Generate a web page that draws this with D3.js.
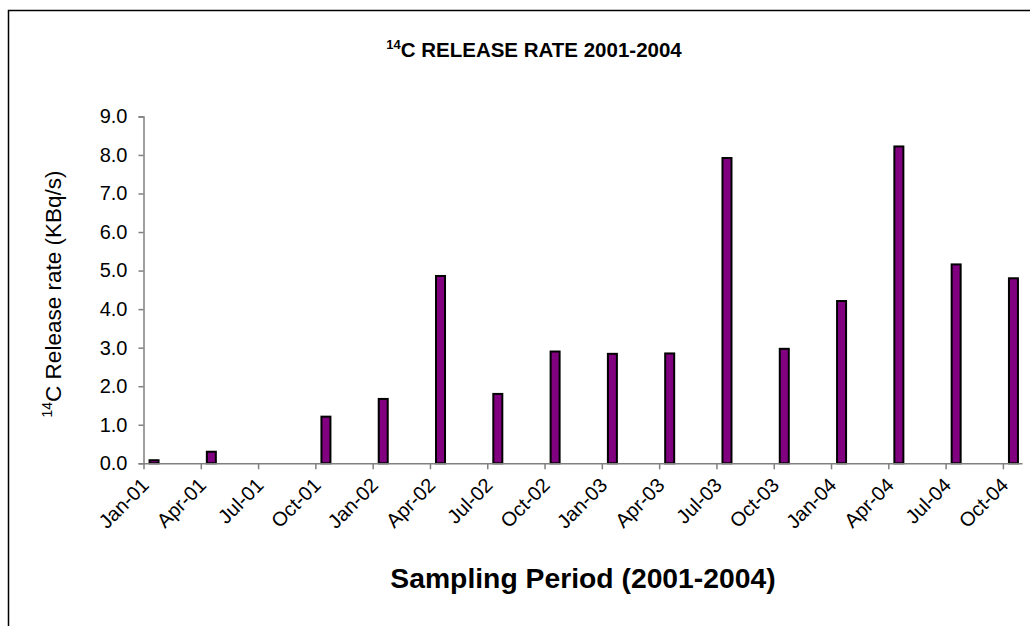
<!DOCTYPE html>
<html><head><meta charset="utf-8">
<script src="https://cdn.jsdelivr.net/npm/d3@7"></script>
<style>
html,body{margin:0;padding:0;background:#fff;}
text{font-family:"Liberation Sans",Arial,sans-serif;}
</style></head>
<body><svg id="c" width="1030" height="626"></svg>
<script>
// Data
const sampleDates = ["Jan-01","Apr-01","Jul-01","Oct-01","Jan-02","Apr-02","Jul-02","Oct-02","Jan-03","Apr-03","Jul-03","Oct-03","Jan-04","Apr-04","Jul-04","Oct-04"];
const releaseRates = [0.08,0.30,0.0,1.21,1.67,4.86,1.80,2.90,2.84,2.85,7.92,2.97,4.21,8.22,5.16,4.80];
const yTicks = [0,1,2,3,4,5,6,7,8,9];
const monthNames = ["Jan","Feb","Mar","Apr","May","Jun","Jul","Aug","Sep","Oct","Nov","Dec"];
const xTickLabels = sampleDates; // every 3 months

const svg = d3.select("#c");
const pLeft = 143.5, pRight = 1022, pTop = 116.4, pBottom = 463.3;

svg.append("rect").attr("x",8.5).attr("y",10.5).attr("width",1040).attr("height",640)
  .attr("fill","#fff").attr("stroke","#000").attr("stroke-width",1.5);

function monthIndex(lbl){
  const [m,yy] = lbl.split("-");
  return (parseInt(yy,10)-1)*12 + monthNames.indexOf(m);
}
const nMonths = monthIndex(sampleDates[sampleDates.length-1]) + 1;

const x = d3.scaleLinear().domain([0,nMonths]).range([pLeft,pRight]);
const y = d3.scaleLinear().domain([0,9]).range([pBottom,pTop]);

// bars
const barW = 9;
svg.append("g").selectAll("rect")
  .data(releaseRates.map((v,i)=>({v,lbl:sampleDates[i]})).filter(d=>d.v>0))
  .join("rect")
  .attr("x",d=>{const m=monthIndex(d.lbl); return (x(m)+x(m+1))/2 - barW/2 + 1;})
  .attr("y",d=>y(d.v))
  .attr("width",barW)
  .attr("height",d=>y(0)-y(d.v))
  .attr("fill","#800080").attr("stroke","#000").attr("stroke-width",2);

// y axis
const yAxis = svg.append("g").attr("transform",`translate(${pLeft},0)`)
  .call(d3.axisLeft(y).tickValues(yTicks).tickFormat(d3.format(".1f")).tickSize(5).tickPadding(11));
yAxis.select(".domain").attr("stroke","#808080").attr("stroke-width",1.5);
yAxis.selectAll(".tick line").attr("stroke","#808080").attr("stroke-width",1.5);
yAxis.selectAll(".tick text").style("font-size","20px").attr("fill","#000")
  .style("font-family","Liberation Sans, Arial, sans-serif");

// x axis
const xTickVals = sampleDates.map(monthIndex);
const xAxis = svg.append("g").attr("transform",`translate(0,${pBottom})`)
  .call(d3.axisBottom(x).tickValues(xTickVals).tickFormat((d,i)=>xTickLabels[i]).tickSize(6).tickSizeOuter(0));
xAxis.select(".domain").attr("stroke","#808080").attr("stroke-width",1.5);
xAxis.selectAll(".tick line").attr("stroke","#808080").attr("stroke-width",1.5);
xAxis.selectAll(".tick text").style("font-size","20px").attr("fill","#000")
  .style("font-family","Liberation Sans, Arial, sans-serif")
  .attr("text-anchor","end")
  .attr("y",0).attr("dy","0.72em")
  .attr("transform","translate(-4,13) rotate(-45)");

// title
const t = svg.append("text").attr("x",534).attr("y",57).attr("text-anchor","middle")
  .attr("font-weight","bold").attr("font-size",20.5);
t.append("tspan").attr("font-size",13).attr("dy",-8).text("14");
t.append("tspan").attr("dy",8).text("C RELEASE RATE 2001-2004");

// x title
svg.append("text").attr("x",583).attr("y",588).attr("text-anchor","middle")
  .attr("font-weight","bold").attr("font-size",28.3).text("Sampling Period (2001-2004)");

// y title
const yl = svg.append("text").attr("transform","translate(61,294) rotate(-90)")
  .attr("text-anchor","middle").attr("font-size",22.5);
yl.append("tspan").attr("font-size",14).attr("dy",-9).text("14");
yl.append("tspan").attr("dy",9).text("C Release rate (KBq/s)");
</script></body></html>
